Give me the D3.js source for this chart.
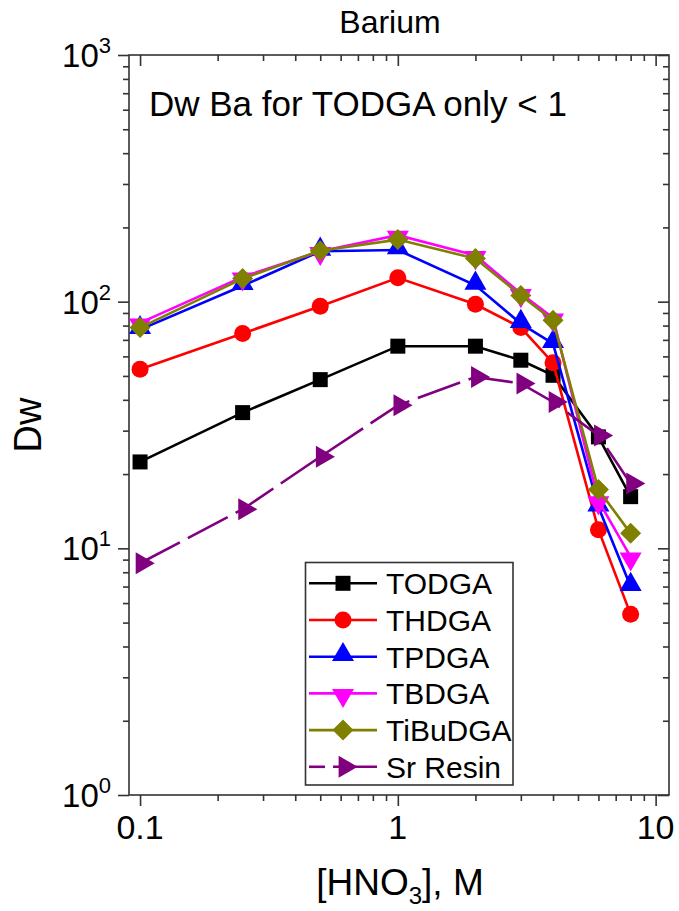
<!DOCTYPE html>
<html>
<head>
<meta charset="utf-8">
<script src="https://cdn.jsdelivr.net/npm/d3@7"></script>
<style>
  html, body { margin: 0; padding: 0; background: #fff; }
  text { font-family: "Liberation Sans", Arial, sans-serif; fill: #000; }
</style>
</head>
<body>
<svg id="chart" width="679" height="911"></svg>
<script>
// ---- data ----
const hno3 = [0.1, 0.25, 0.5, 1, 2, 3, 4, 6, 8];
const seriesNames = ["TODGA", "THDGA", "TPDGA", "TBDGA", "TiBuDGA", "Sr Resin"];
const todga   = [22.4, 35.5, 48.3, 66, 66, 57.9, 50.3, 28.3, 16.2];
const thdga   = [53.2, 74.3, 95.8, 125, 97.6, 78.5, 56.5, 11.9, 5.4];
const tpdga   = [77, 116, 160, 162, 116.5, 81.5, 67.6, 14.7, 7.0];
const tbdga   = [82, 126, 160, 186, 154, 108, 86, 15.6, 9.24];
const tibudga = [78.5, 124, 161, 178.5, 149.5, 106, 84.1, 17.3, 11.5];
const srResin = [8.7, 14.4, 23.5, 38, 49.5, 46.6, 39.2, 28.7, 18.3];
const xTickValues = [0.1, 1, 10];
const xTickLabels = ["0.1", "1", "10"];
const yTickValues = [1, 10, 100, 1000];
const yTickExponents = ["0", "1", "2", "3"];

const colors = ["#000000", "#ff0000", "#0000ff", "#ff00ff", "#808000", "#800080"];
const shapes = ["square", "circle", "triUp", "triDown", "diamond", "triRight"];
const allSeries = [todga, thdga, tpdga, tbdga, tibudga, srResin];

// ---- layout ----
const svg = d3.select("#chart");
const L = 129, R = 669, T = 55, B = 795;
const x = d3.scaleLog().domain([0.0906, 11.27]).range([L, R]);
const y = d3.scaleLog().domain([1, 1000]).range([B, T]);

const xMinor = [], yMinor = [];
[0.01, 0.1, 1].forEach(d => { for (let k = 2; k <= 9; k++) { const v = d * k; if (v >= 0.0906 && v <= 11.27) xMinor.push(v); } });
[1, 10, 100].forEach(d => { for (let k = 2; k <= 9; k++) yMinor.push(d * k); });

const axColor = "#333";
function styleAxis(g) {
  g.select(".domain").remove();
  g.selectAll(".tick line").attr("stroke", axColor).attr("stroke-width", 1.6);
  g.selectAll(".tick text").remove();
}
// bottom (outward)
svg.append("g").attr("transform", `translate(0,${B})`).call(d3.axisBottom(x).tickValues(xMinor).tickSize(6)).call(styleAxis);
svg.append("g").attr("transform", `translate(0,${B})`).call(d3.axisBottom(x).tickValues(xTickValues).tickSize(11)).call(styleAxis);
// top (inward)
svg.append("g").attr("transform", `translate(0,${T})`).call(d3.axisBottom(x).tickValues(xMinor).tickSize(6)).call(styleAxis);
svg.append("g").attr("transform", `translate(0,${T})`).call(d3.axisBottom(x).tickValues(xTickValues).tickSize(11)).call(styleAxis);
// left (outward)
svg.append("g").attr("transform", `translate(${L},0)`).call(d3.axisLeft(y).tickValues(yMinor).tickSize(6)).call(styleAxis);
svg.append("g").attr("transform", `translate(${L},0)`).call(d3.axisLeft(y).tickValues(yTickValues).tickSize(11)).call(styleAxis);
// right (inward)
svg.append("g").attr("transform", `translate(${R},0)`).call(d3.axisLeft(y).tickValues(yMinor).tickSize(6)).call(styleAxis);
svg.append("g").attr("transform", `translate(${R},0)`).call(d3.axisLeft(y).tickValues(yTickValues).tickSize(11)).call(styleAxis);

// frame
svg.append("rect").attr("x", L).attr("y", T).attr("width", R - L).attr("height", B - T)
  .attr("fill", "none").attr("stroke", axColor).attr("stroke-width", 1.6);

// tick labels
svg.append("g").selectAll("text").data(xTickValues).join("text")
  .attr("x", d => x(d)).attr("y", 839).attr("text-anchor", "middle")
  .attr("font-size", 34).text((d, i) => xTickLabels[i]);

const yl = svg.append("g").selectAll("text").data(yTickValues).join("text")
  .attr("x", 111).attr("y", d => y(d) + 12).attr("text-anchor", "end").attr("font-size", 33);
yl.append("tspan").text("10");
yl.append("tspan").attr("font-size", 22).attr("dy", -14).text((d, i) => yTickExponents[i]);

// axis titles
svg.append("text").attr("transform", `translate(41,${(T + B) / 2}) rotate(-90)`)
  .attr("text-anchor", "middle").attr("font-size", 38).text("Dw");
const xt = svg.append("text").attr("x", 400).attr("y", 895).attr("text-anchor", "middle").attr("font-size", 37);
xt.append("tspan").text("[HNO");
xt.append("tspan").attr("font-size", 24).attr("dy", 9).text("3");
xt.append("tspan").attr("dy", -9).text("], M");

// title & annotation
svg.append("text").attr("x", 390).attr("y", 33).attr("text-anchor", "middle").attr("font-size", 32).text("Barium");
svg.append("text").attr("x", 149).attr("y", 116).attr("font-size", 35).text("Dw Ba for TODGA only < 1");

// markers
const diamondPath = "M0,-10.5L10.5,0L0,10.5L-10.5,0Z";
function marker(sel, shape, color) {
  if (shape === "square") sel.append("rect").attr("x", -7.5).attr("y", -7.5).attr("width", 15).attr("height", 15).attr("fill", color);
  else if (shape === "circle") sel.append("circle").attr("r", 8.5).attr("fill", color);
  else if (shape === "diamond") sel.append("path").attr("d", diamondPath).attr("fill", color);
  else {
    const rot = { triUp: 0, triDown: 180, triRight: 90 }[shape];
    const yOff = shape === "triUp" ? -2 : shape === "triDown" ? 2 : 0;
    sel.append("path").attr("d", d3.symbol().type(d3.symbolTriangle).size(210)())
      .attr("transform", `translate(${shape === "triRight" ? 2 : 0},${yOff}) rotate(${rot})`).attr("fill", color);
  }
}

const line = d3.line().x((d, i) => x(hno3[i])).y(d => y(d));
allSeries.forEach((vals, si) => {
  const g = svg.append("g");
  g.append("path").datum(vals).attr("d", line).attr("fill", "none")
    .attr("stroke", colors[si]).attr("stroke-width", 2.6)
    .attr("stroke-dasharray", si === 5 ? "45,9" : null);
  g.selectAll("g.m").data(vals).join("g").attr("class", "m")
    .attr("transform", (d, i) => `translate(${x(hno3[i])},${y(d)})`)
    .each(function () { marker(d3.select(this), shapes[si], colors[si]); });
});

// legend
const lg = svg.append("g");
lg.append("rect").attr("x", 305.5).attr("y", 562.5).attr("width", 207.5).attr("height", 222.5)
  .attr("fill", "#fff").attr("stroke", axColor).attr("stroke-width", 1.6);
seriesNames.forEach((name, si) => {
  const yy = 583.3 + si * 36.7;
  const row = lg.append("g");
  if (si === 5) {
    row.append("line").attr("x1", 309).attr("x2", 325).attr("y1", yy).attr("y2", yy).attr("stroke", colors[si]).attr("stroke-width", 2.6);
    row.append("line").attr("x1", 333).attr("x2", 377).attr("y1", yy).attr("y2", yy).attr("stroke", colors[si]).attr("stroke-width", 2.6);
  } else {
    row.append("line").attr("x1", 309).attr("x2", 377).attr("y1", yy).attr("y2", yy)
      .attr("stroke", colors[si]).attr("stroke-width", 2.6);
  }
  const m = row.append("g").attr("transform", `translate(343,${yy})`);
  marker(m, shapes[si], colors[si]);
  row.append("text").attr("x", 386).attr("y", yy + 11).attr("font-size", 30).text(name);
});
</script>
</body>
</html>
